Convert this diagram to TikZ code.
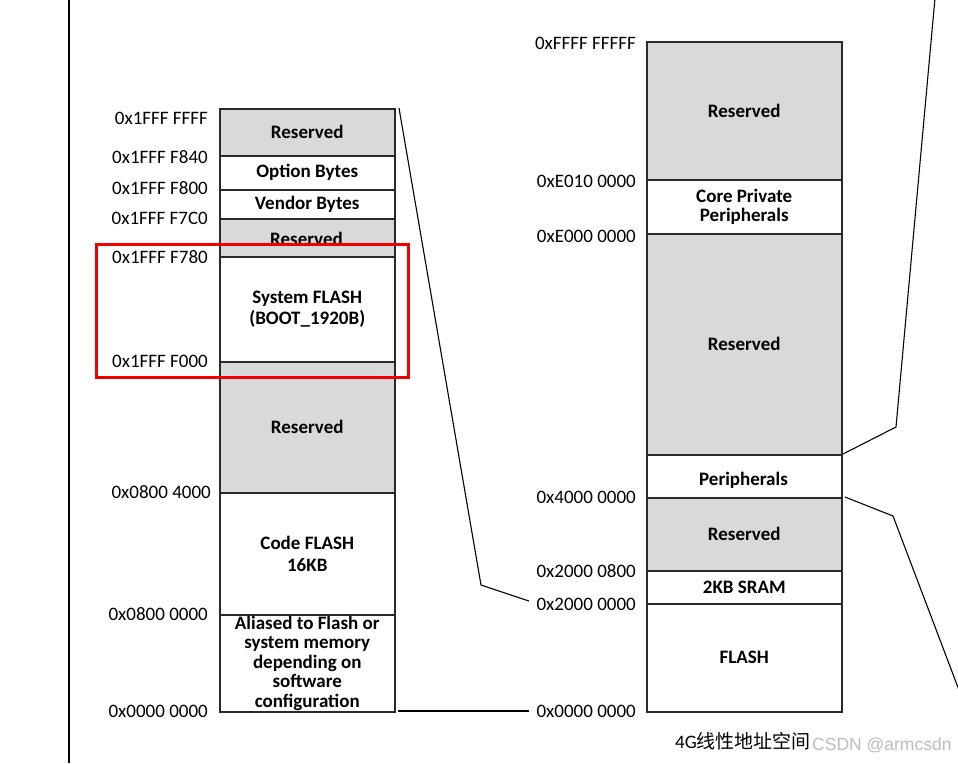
\documentclass[tikz,border=0pt]{standalone}
\usepackage{fontspec}
\setmainfont{Carlito}
\newfontfamily\cjk{Noto Sans CJK SC}
\newfontfamily\wmfont{Liberation Sans}
\definecolor{resgray}{HTML}{D9D9D9}
\definecolor{boxline}{HTML}{2A2A2A}
\definecolor{hlred}{HTML}{F00000}
\definecolor{wmgray}{HTML}{BDBDBD}
\begin{document}
\begin{tikzpicture}[x=1pt,y=-1pt,
  region/.style={draw=boxline, line width=1.5pt, anchor=north west, inner sep=0pt,
    align=center, font=\bfseries\fontsize{19}{19.5}\selectfont, text=black},
  lcol/.style={region, minimum width=175pt},
  rcol/.style={region, minimum width=195pt},
  res/.style={fill=resgray},
  blank/.style={fill=white},
  boxtext/.style={inner sep=0pt, font=\bfseries\fontsize{19}{19.5}\selectfont},
  addr/.style={anchor=east, inner sep=0pt, font=\fontsize{19}{20}\selectfont},
  link/.style={line width=1.1pt, black}]
\useasboundingbox (0,0) rectangle (958,763);
\fill[white] (0,0) rectangle (958,763);

% left frame line
\draw[line width=1.1pt] (69,0) -- (69,763);

% ---------- left column ----------
\node[lcol,res,minimum height=47pt] (L1) at (219,108) {Reserved};
\node[lcol,blank,minimum height=34pt] (L2) at (219,155) {Option Bytes};
\node[lcol,blank,minimum height=29pt] (L3) at (219,189) {Vendor Bytes};
\node[lcol,res,minimum height=38pt] (L4) at (219,218) {};
\node[lcol,blank,minimum height=105pt] (L5) at (219,256) {System FLASH\\[2pt](BOOT\_1920B)};
\node[lcol,res,minimum height=131pt] (L6) at (219,361) {Reserved};
\node[lcol,blank,minimum height=122pt] (L7) at (219,492) {Code FLASH\\[3pt]16KB};
\node[lcol,blank,minimum height=97pt] (L8) at (219,614) {Aliased to Flash or\\system memory\\depending on\\software\\configuration};
\begin{scope}
  \clip (219,218) rectangle (394,243);
  \node[boxtext] (L4t) at (306.5,239) {Reserved};
\end{scope}

\node[addr] (la1) at (208,118) {0x1FFF FFFF};
\node[addr] (la2) at (208,157) {0x1FFF F840};
\node[addr] (la3) at (208,188) {0x1FFF F800};
\node[addr] (la4) at (208,218) {0x1FFF F7C0};
\node[addr] (la5) at (208,257) {0x1FFF F780};
\node[addr] (la6) at (208,361) {0x1FFF F000};
\node[addr] (la7) at (211,492) {0x0800 4000};
\node[addr] (la8) at (208,614) {0x0800 0000};
\node[addr] (la9) at (208,711) {0x0000 0000};

% highlight
\node[draw=hlred, line width=3pt, minimum width=312pt, minimum height=133pt, anchor=north west, inner sep=0pt] (hl) at (95,243) {};

% ---------- right column ----------
\node[rcol,res,minimum height=138pt] (R1) at (646,41) {Reserved};
\node[rcol,blank,minimum height=54pt] (R2) at (646,179) {Core Private\\Peripherals};
\node[rcol,res,minimum height=221pt] (R3) at (646,233) {Reserved};
\node[rcol,blank,minimum height=43pt] (R4) at (646,454) {};
\node[boxtext] (R4t) at (743.5,480) {Peripherals};
\node[rcol,res,minimum height=73pt] (R5) at (646,497) {Reserved};
\node[rcol,blank,minimum height=33pt] (R6) at (646,570) {2KB SRAM};
\node[rcol,blank,minimum height=108pt] (R7) at (646,603) {FLASH};

\node[addr] (ra1) at (636,43) {0xFFFF FFFFF};
\node[addr] (ra2) at (636,181) {0xE010 0000};
\node[addr] (ra3) at (636,236) {0xE000 0000};
\node[addr] (ra4) at (636,497) {0x4000 0000};
\node[addr] (ra5) at (636,571) {0x2000 0800};
\node[addr] (ra6) at (636,604) {0x2000 0000};
\node[addr] (ra7) at (636,711) {0x0000 0000};

\node[inner sep=0pt, font=\fontsize{19}{20}\selectfont] (cap) at (743,741) {4G{\cjk 线性地址空间}};
\node[inner sep=0pt, anchor=west, text=wmgray, font=\wmfont\fontsize{17.5}{19}\selectfont] (wm) at (812,745) {CSDN @armcsdn};

% ---------- connectors ----------
\coordinate (a1) at (399,108);
\coordinate (a2) at (481,585);
\coordinate (a3) at (529,601);
\draw[link] (a1) -- (a2) -- (a3);
\coordinate (b1) at (398,711);
\coordinate (b2) at (529,711);
\draw[link] (b1) -- (b2);
\coordinate (c1) at (843,454);
\coordinate (c2) at (896,427);
\coordinate (c3) at (935,-2);
\draw[link] (c1) -- (c2) -- (c3);
\coordinate (d1) at (845,497);
\coordinate (d2) at (893,516);
\coordinate (d3) at (962,698);
\draw[link] (d1) -- (d2) -- (d3);
\end{tikzpicture}
\end{document}
